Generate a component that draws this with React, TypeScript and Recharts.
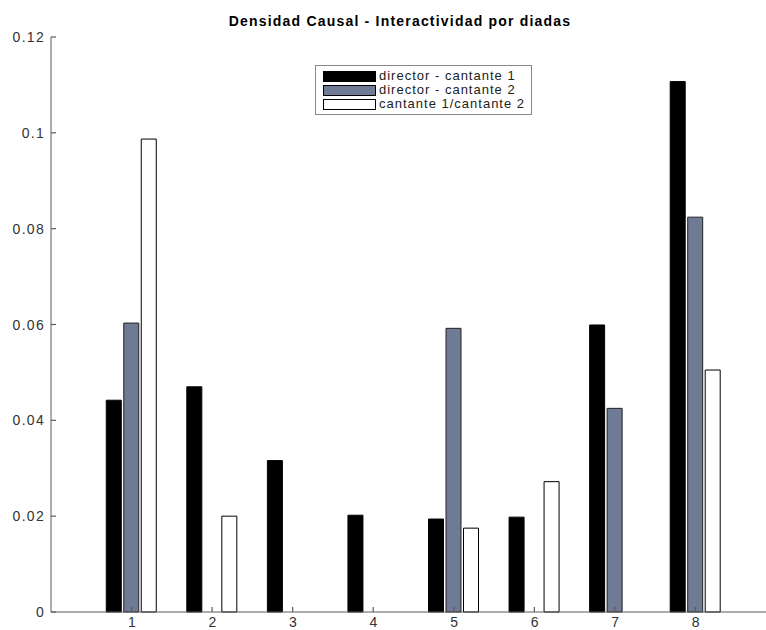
import { Bar, BarChart, Legend, XAxis, YAxis } from "recharts";

const categories = ["1", "2", "3", "4", "5", "6", "7", "8"];
const directorCantante1 = [0.0442, 0.047, 0.0316, 0.0202, 0.0194, 0.0198, 0.0599, 0.1107];
const directorCantante2 = [0.0603, 0, 0, 0, 0.0592, 0, 0.0425, 0.0824];
const cantante1Cantante2 = [0.0987, 0.02, 0, 0, 0.0175, 0.0272, 0, 0.0505];
const yTicks = [0, 0.02, 0.04, 0.06, 0.08, 0.1, 0.12];

const seriesNames = ["director - cantante 1", "director - cantante 2", "cantante 1/cantante 2"];
const seriesColors = ["#000000", "#6f7a94", "#ffffff"];

const data = categories.map((cat, i) => ({
  cat,
  s1: directorCantante1[i],
  s2: directorCantante2[i],
  s3: cantante1Cantante2[i],
}));

const FONT = "'Liberation Sans', Arial, Helvetica, sans-serif";
const AXIS = "#5a5a5a";

// MATLAB style: ticks point into the plot box
function BottomTick(props: any) {
  const { x, y, payload } = props;
  const px = Number(x);
  const py = Number(y);
  return (
    <g>
      <line x1={px} y1={py} x2={px} y2={py - 5} stroke={AXIS} strokeWidth={1.2} />
      <text x={px + 0.5} y={py + 15} textAnchor="middle" fontSize={14} letterSpacing={0.5} fill="#333" fontFamily={FONT}>
        {payload.value}
      </text>
    </g>
  );
}

function TopTick(props: any) {
  const px = Number(props.x);
  const py = Number(props.y);
  return <line x1={px} y1={py} x2={px} y2={py + 5} stroke={AXIS} strokeWidth={1.2} />;
}

function LeftTick(props: any) {
  const { payload } = props;
  const px = Number(props.x);
  const py = Number(props.y);
  return (
    <g>
      <line x1={px} y1={py} x2={px + 5} y2={py} stroke={AXIS} strokeWidth={1.2} />
      <text x={px - 6} y={py + 5} textAnchor="end" fontSize={14} letterSpacing={1.3} fill="#333" fontFamily={FONT}>
        {String(payload.value)}
      </text>
    </g>
  );
}

function LegendBox() {
  return (
    <div
      style={{
        width: 217,
        height: 50,
        border: "1.5px solid #888",
        background: "#fff",
        boxSizing: "border-box",
        padding: "3px 0 0 7px",
        fontFamily: FONT,
        fontSize: 13,
        letterSpacing: 1,
        color: "#222",
      }}
    >
      {seriesNames.map((name, i) => (
        <div key={name} style={{ display: "flex", alignItems: "center", height: 14 }}>
          <span
            style={{
              display: "inline-block",
              width: 51,
              height: 9,
              background: seriesColors[i],
              border: "1px solid #000",
              marginRight: 3,
            }}
          />
          <span style={{ lineHeight: "14px", whiteSpace: "nowrap" }}>{name}</span>
        </div>
      ))}
    </div>
  );
}

export default function App() {
  return (
    <div style={{ position: "absolute", left: 0, top: 0, width: 766, height: 630, background: "#fff", overflow: "hidden" }}>
      <div
        style={{
          position: "absolute",
          left: 0,
          width: 800,
          top: 13,
          textAlign: "center",
          fontFamily: FONT,
          fontWeight: "bold",
          fontSize: 14,
          letterSpacing: 1.2,
          color: "#000",
        }}
      >
        Densidad Causal - Interactividad por diadas
      </div>
      <BarChart
        width={766}
        height={630}
        data={data}
        margin={{ top: 37, right: -10, bottom: 0, left: 0 }}
        barSize={15}
        barGap={2.5}
      >
        <XAxis
          dataKey="cat"
          height={18}
          padding={{ left: 40.25, right: 40.25 }}
          stroke={AXIS}
          tickLine={false}
          tickSize={0}
          tickMargin={0}
          tick={<BottomTick />}
          interval={0}
        />
        <XAxis
          xAxisId="top"
          dataKey="cat"
          orientation="top"
          height={0}
          padding={{ left: 40.25, right: 40.25 }}
          stroke={AXIS}
          tickLine={false}
          tickSize={0}
          tickMargin={0}
          tick={<TopTick />}
          interval={0}
        />
        <YAxis
          width={51}
          domain={[0, 0.12]}
          ticks={yTicks}
          stroke={AXIS}
          tickLine={false}
          tickSize={0}
          tickMargin={0}
          tick={<LeftTick />}
          interval={0}
        />
        <Legend
          layout="vertical"
          align="center"
          verticalAlign="middle"
          content={<LegendBox />}
          wrapperStyle={{ position: "absolute", left: 315, top: 65, width: 217, height: 50 }}
        />
        <Bar dataKey="s1" name={seriesNames[0]} fill={seriesColors[0]} stroke="#000" isAnimationActive={false} />
        <Bar dataKey="s2" name={seriesNames[1]} fill={seriesColors[1]} stroke="#222" isAnimationActive={false} />
        <Bar dataKey="s3" name={seriesNames[2]} fill={seriesColors[2]} stroke="#000" isAnimationActive={false} />
      </BarChart>
    </div>
  );
}
